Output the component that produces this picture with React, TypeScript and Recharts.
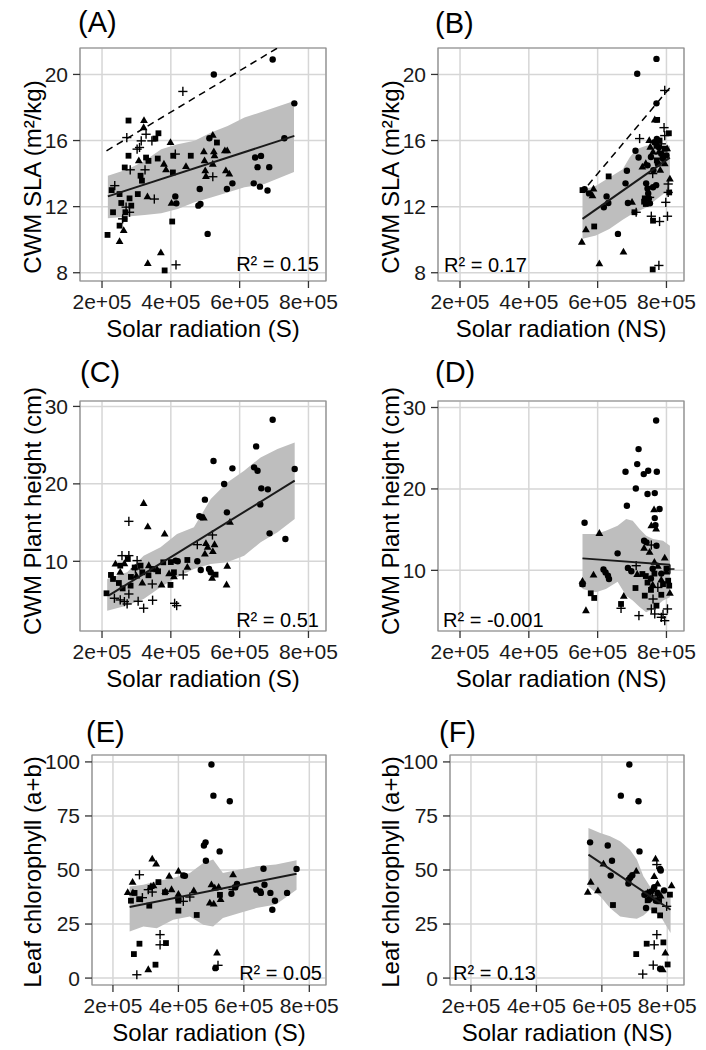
import React from 'react';
import { ComposedChart, Scatter, Area, XAxis, YAxis, CartesianGrid, ReferenceArea } from 'recharts';

type Pt = [number, number];

const X_TICKS = [2e5, 4e5, 6e5, 8e5];
const X_DOMAIN: [number, number] = [1.36e5, 8.51e5];

// (A) CWM SLA vs solar radiation (S)
const slaS_circle: Pt[] = [
  [6.96e5, 20.9], [5.25e5, 20.0], [7.59e5, 18.25], [7.3e5, 16.14], [5.12e5, 16.14], [6.45e5, 14.97],
  [6.62e5, 15.07], [6.52e5, 14.39], [6.86e5, 14.39], [6.41e5, 13.41], [6.59e5, 13.21], [6.81e5, 12.98],
  [5.79e5, 13.41], [5.63e5, 13.07], [4.84e5, 13.07], [4.8e5, 12.06], [4.86e5, 12.16], [5.07e5, 10.35],
  [4.13e5, 12.62], [4.16e5, 12.2],
];
const slaS_triangle: Pt[] = [
  [3.22e5, 17.21], [3.21e5, 16.78], [3.99e5, 15.88], [3.07e5, 14.77], [3.8e5, 14.57], [3.86e5, 14.23],
  [4.44e5, 14.43], [4.96e5, 15.32], [5.22e5, 16.32], [5.25e5, 15.32], [5.27e5, 15.08], [4.98e5, 14.77],
  [5.22e5, 14.57], [5.0e5, 14.17], [5.02e5, 13.83], [5.57e5, 15.38], [5.64e5, 15.38], [5.6e5, 14.17],
  [5.7e5, 13.97], [3.32e5, 12.6], [4.02e5, 12.2], [2.63e5, 10.55], [2.51e5, 9.89], [3.33e5, 8.56], [3.71e5, 9.21],
];
const slaS_square: Pt[] = [
  [2.77e5, 17.21], [3.64e5, 16.44], [3.55e5, 16.12], [2.77e5, 15.08], [3.28e5, 14.97], [3.35e5, 14.77],
  [3.62e5, 14.91], [4.07e5, 15.08], [4.58e5, 15.08], [5.34e5, 15.88], [2.66e5, 14.37], [3.12e5, 13.87],
  [3.16e5, 13.57], [4.06e5, 14.07], [2.28e5, 13.0], [2.51e5, 12.76], [2.8e5, 12.5], [3.04e5, 12.76],
  [2.56e5, 12.22], [2.85e5, 12.06], [2.32e5, 11.66], [2.68e5, 11.66], [2.51e5, 10.85], [2.16e5, 10.29],
  [4.04e5, 11.1], [3.82e5, 8.14], [2.66e5, 11.25],
];
const slaS_plus: Pt[] = [
  [4.35e5, 18.97], [2.72e5, 16.18], [3.14e5, 15.98], [3.28e5, 16.38], [3.09e5, 15.58], [3.02e5, 15.48],
  [3.45e5, 15.98], [4.13e5, 15.18], [2.82e5, 14.23], [3.25e5, 14.23], [5.22e5, 13.81], [2.37e5, 13.27],
  [3.52e5, 12.46], [2.7e5, 11.97], [2.8e5, 11.66], [2.6e5, 11.26], [4.15e5, 8.48],
];
const slaS_bandX = [2.17e5, 2.75e5, 3.24e5, 3.72e5, 4.2e5, 4.69e5, 5.17e5, 5.65e5, 6.14e5, 6.72e5, 7.58e5];
const slaS_bandLo = [11.3, 11.4, 11.5, 11.6, 11.86, 12.26, 12.56, 12.86, 13.17, 13.37, 14.1];
const slaS_bandHi = [13.87, 14.27, 14.77, 15.48, 15.78, 15.98, 16.48, 16.88, 17.39, 17.79, 18.39];
const slaS_fit: Pt[] = [[2.17e5, 12.62], [7.59e5, 16.28]];
const slaS_dash: Pt[] = [[2.13e5, 15.38], [7.1e5, 21.6]];

// (B) CWM SLA vs solar radiation (NS)
const slaNS_circle: Pt[] = [
  [7.71e5, 20.94], [7.15e5, 20.04], [7.71e5, 18.25], [7.1e5, 15.38], [7.19e5, 14.97], [6.85e5, 14.17],
  [6.81e5, 13.41], [6.26e5, 12.62], [6.31e5, 12.22], [6.18e5, 11.96], [6.88e5, 12.22], [6.59e5, 10.35],
  [5.62e5, 13.05], [5.75e5, 12.8], [7.41e5, 13.41], [7.45e5, 13.1], [7.47e5, 12.8], [7.49e5, 12.5],
  [7.52e5, 12.2], [7.61e5, 13.17], [7.7e5, 13.3], [7.65e5, 15.9], [7.72e5, 16.1], [7.78e5, 15.6],
  [7.55e5, 15.0], [7.85e5, 15.2], [7.9e5, 14.9], [7.45e5, 14.5], [7.75e5, 14.6], [8.0e5, 15.1], [7.62e5, 14.2],
];
const slaNS_triangle: Pt[] = [
  [7.66e5, 17.25], [5.88e5, 13.07], [5.85e5, 12.66], [5.66e5, 10.6], [5.54e5, 9.85], [6.05e5, 8.54],
  [6.75e5, 9.25], [7.0e5, 12.26], [8.1e5, 13.67], [7.53e5, 15.6], [7.61e5, 15.3], [7.78e5, 15.3],
  [7.88e5, 15.0], [7.95e5, 14.6], [7.4e5, 14.6], [7.82e5, 14.2], [8.02e5, 15.5], [7.5e5, 16.0], [7.3e5, 14.4],
];
const slaNS_square: Pt[] = [
  [7.73e5, 17.25], [6.32e5, 13.83], [5.9e5, 10.8], [5.56e5, 13.0], [8.07e5, 16.44], [7.37e5, 12.5],
  [7.4e5, 12.16], [7.07e5, 11.66], [7.61e5, 11.15], [7.6e5, 8.2], [8.08e5, 12.86], [7.71e5, 15.68],
  [7.8e5, 16.0], [7.95e5, 15.5], [7.35e5, 12.3], [7.72e5, 14.8],
];
const slaNS_plus: Pt[] = [
  [7.95e5, 19.03], [7.22e5, 16.12], [7.93e5, 16.78], [7.95e5, 16.3], [7.51e5, 12.56], [7.12e5, 11.66],
  [7.56e5, 11.42], [7.8e5, 11.1], [8.03e5, 11.42], [7.98e5, 12.26], [8.05e5, 12.86], [8.05e5, 13.37],
  [7.78e5, 8.44], [7.6e5, 14.0], [7.85e5, 15.8],
];
const slaNS_bandX = [5.56e5, 5.95e5, 6.34e5, 6.73e5, 6.93e5, 7.12e5, 7.41e5, 7.71e5, 8.1e5];
const slaNS_bandLo = [10.05, 10.25, 10.65, 11.2, 11.47, 11.66, 11.95, 12.45, 13.07];
const slaNS_bandHi = [13.0, 13.27, 13.77, 14.27, 14.97, 15.48, 15.68, 15.78, 15.68];
const slaNS_fit: Pt[] = [[5.56e5, 11.26], [8.1e5, 14.97]];
const slaNS_dash: Pt[] = [[5.72e5, 13.3], [8.1e5, 19.2]];

// (C) CWM plant height vs solar radiation (S)
const hS_circle: Pt[] = [
  [6.96e5, 28.28], [6.48e5, 24.84], [5.24e5, 22.95], [5.79e5, 22.0], [6.42e5, 22.13], [6.52e5, 21.7],
  [7.6e5, 21.91], [5.55e5, 19.98], [6.63e5, 19.42], [6.82e5, 19.29], [6.6e5, 17.35], [5.63e5, 16.32],
  [4.99e5, 17.96], [4.83e5, 15.81], [6.87e5, 13.61], [7.33e5, 12.88], [4.77e5, 10.0], [4.87e5, 8.88],
  [5.11e5, 9.01], [5.16e5, 8.58], [4.14e5, 10.09], [4.2e5, 10.0], [4.9e5, 15.7],
];
const hS_triangle: Pt[] = [
  [3.21e5, 17.48], [3.33e5, 14.47], [3.82e5, 13.53], [4.96e5, 15.59], [5.72e5, 15.03], [5.02e5, 12.3],
  [5.07e5, 11.8], [5.27e5, 12.15], [5.22e5, 11.25], [4.99e5, 10.95], [5.64e5, 9.35], [5.62e5, 6.95],
  [5.2e5, 7.81], [4.48e5, 9.23], [4.09e5, 8.02], [3.73e5, 6.95], [3.17e5, 7.2], [2.39e5, 9.66],
  [2.53e5, 8.58], [3.36e5, 9.44], [3.6e5, 8.92], [2.65e5, 9.7], [3.0e5, 8.1], [3.95e5, 8.4],
];
const hS_square: Pt[] = [
  [2.75e5, 10.3], [2.26e5, 8.24], [2.32e5, 7.72], [2.53e5, 9.44], [2.49e5, 7.2], [2.83e5, 6.86],
  [3.12e5, 9.44], [3.17e5, 8.58], [3.63e5, 8.71], [3.78e5, 9.87], [3.99e5, 6.95], [4.48e5, 10.17],
  [5.3e5, 8.28], [2.13e5, 5.87], [2.84e5, 7.98], [3.46e5, 9.01], [4.09e5, 8.58], [2.95e5, 9.2],
  [3.35e5, 8.2], [4.0e5, 9.9], [2.6e5, 6.5],
];
const hS_plus: Pt[] = [
  [2.78e5, 15.16], [2.58e5, 10.73], [2.78e5, 10.73], [3.02e5, 10.09], [2.97e5, 9.01], [4.36e5, 8.24],
  [4.77e5, 12.15], [5.21e5, 13.4], [3.46e5, 7.07], [2.36e5, 5.23], [2.53e5, 5.01], [2.73e5, 4.49],
  [3.05e5, 4.84], [3.21e5, 3.94], [3.47e5, 4.97], [4.11e5, 4.58], [4.17e5, 4.28], [2.78e5, 5.78], [2.65e5, 4.8],
];
const hS_bandX = [2.15e5, 2.73e5, 3.21e5, 3.7e5, 4.18e5, 4.67e5, 5.16e5, 5.64e5, 6.13e5, 6.61e5, 7.1e5, 7.6e5];
const hS_bandLo = [3.63, 4.28, 5.14, 6.65, 7.94, 9.01, 9.66, 9.87, 10.73, 12.45, 13.74, 15.46];
const hS_bandHi = [7.72, 8.58, 10.73, 11.81, 13.53, 14.39, 18.04, 20.19, 21.7, 23.42, 24.49, 25.35];
const hS_fit: Pt[] = [[2.2e5, 5.6], [7.6e5, 20.41]];

// (D) CWM plant height vs solar radiation (NS)
const hNS_circle: Pt[] = [
  [7.7e5, 28.4], [7.19e5, 24.89], [7.15e5, 23.05], [6.81e5, 22.11], [7.34e5, 21.82], [7.47e5, 22.23],
  [7.72e5, 22.11], [7.11e5, 20.06], [7.45e5, 19.37], [7.66e5, 19.49], [6.85e5, 17.93], [7.8e5, 17.53],
  [7.66e5, 16.42], [7.68e5, 15.56], [5.62e5, 15.85], [6.58e5, 12.09], [7.35e5, 13.64], [7.42e5, 13.44],
  [7.71e5, 13.03], [6.17e5, 10.1], [6.23e5, 9.75], [6.3e5, 9.35], [6.33e5, 8.94], [6.88e5, 10.3],
  [6.98e5, 9.88], [5.56e5, 8.28], [7.6e5, 10.2], [7.85e5, 9.6], [7.55e5, 9.0],
];
const hNS_triangle: Pt[] = [
  [6.05e5, 14.54], [7.64e5, 17.44], [7.56e5, 15.48], [7.7e5, 15.07], [7.35e5, 12.7], [7.51e5, 12.21],
  [7.95e5, 11.51], [5.88e5, 9.43], [5.56e5, 8.65], [5.66e5, 5.05], [6.76e5, 6.81], [8.1e5, 7.18],
  [7.65e5, 11.0], [7.75e5, 10.5], [7.85e5, 8.8], [7.6e5, 8.2], [8.0e5, 9.8], [7.15e5, 9.5],
];
const hNS_square: Pt[] = [
  [5.56e5, 8.32], [5.8e5, 7.18], [5.9e5, 6.61], [6.68e5, 5.87], [7.1e5, 7.83], [7.37e5, 6.89],
  [7.3e5, 9.55], [8.05e5, 8.73], [8.08e5, 8.12], [7.71e5, 5.66], [7.45e5, 8.5], [7.65e5, 9.6],
  [7.9e5, 8.3], [7.55e5, 7.6], [7.85e5, 7.0], [8.0e5, 10.2], [7.4e5, 9.3],
];
const hNS_plus: Pt[] = [
  [7.12e5, 10.57], [7.56e5, 13.11], [6.68e5, 5.34], [7.2e5, 4.44], [7.56e5, 5.26], [7.66e5, 4.64],
  [7.85e5, 4.23], [7.95e5, 3.82], [8.03e5, 5.26], [7.61e5, 6.48], [8.1e5, 10.16], [7.75e5, 7.9], [7.9e5, 4.6],
];
const hNS_bandX = [5.56e5, 5.95e5, 6.24e5, 6.58e5, 6.83e5, 7.02e5, 7.22e5, 7.41e5, 7.61e5, 7.9e5, 8.1e5];
const hNS_bandLo = [7.71, 7.3, 7.71, 8.6, 6.89, 6.3, 5.5, 4.85, 5.26, 6.3, 6.69];
const hNS_bandHi = [14.46, 14.46, 14.87, 15.48, 16.3, 16.09, 15.07, 14.25, 13.84, 13.64, 13.03];
const hNS_fit: Pt[] = [[5.56e5, 11.47], [8.1e5, 10.7]];

// (E) leaf chlorophyll vs solar radiation (S)
const chlS_circle: Pt[] = [
  [5.01e5, 98.8], [5.07e5, 84.4], [5.57e5, 81.8], [4.83e5, 62.8], [4.78e5, 61.3], [5.26e5, 58.6],
  [4.84e5, 54.3], [6.6e5, 50.6], [7.61e5, 50.5], [4.15e5, 47.5], [4.2e5, 47.3], [5.79e5, 43.5],
  [6.63e5, 43.2], [5.74e5, 42.0], [6.38e5, 40.9], [6.5e5, 40.1], [6.52e5, 39.4], [6.81e5, 39.4],
  [7.32e5, 39.4], [6.95e5, 35.8], [6.87e5, 31.6], [5.62e5, 39.0], [5.13e5, 4.6], [4.0e5, 36.5],
];
const chlS_triangle: Pt[] = [
  [3.2e5, 55.1], [3.32e5, 52.8], [2.6e5, 44.3], [2.45e5, 39.6], [2.61e5, 39.4], [3.72e5, 47.1],
  [4.0e5, 49.4], [3.16e5, 42.4], [3.24e5, 42.7], [3.79e5, 40.9], [4.47e5, 40.4], [5.01e5, 43.2],
  [5.11e5, 41.7], [5.67e5, 47.8], [4.96e5, 34.7], [5.08e5, 34.3], [5.29e5, 36.3], [5.18e5, 11.6],
  [3.08e5, 3.9], [3.6e5, 40.0], [4.0e5, 38.8], [5.23e5, 42.0],
];
const chlS_square: Pt[] = [
  [3.39e5, 44.4], [2.66e5, 39.4], [2.55e5, 35.8], [3.11e5, 33.5], [3.59e5, 39.7], [4.0e5, 35.8],
  [4.0e5, 31.2], [4.56e5, 29.2], [2.81e5, 15.9], [3.62e5, 16.2], [2.64e5, 11.1], [3.3e5, 6.2],
  [5.27e5, 38.5], [2.8e5, 36.5],
];
const chlS_plus: Pt[] = [
  [2.81e5, 47.8], [3.08e5, 40.9], [3.2e5, 39.8], [4.35e5, 37.5], [4.15e5, 35.5], [3.44e5, 20.1],
  [3.44e5, 15.4], [2.73e5, 1.54], [5.21e5, 5.9], [5.67e5, 41.0], [2.9e5, 37.2],
];
const chlS_bandX = [2.51e5, 2.93e5, 3.34e5, 3.84e5, 4.35e5, 4.76e5, 5.06e5, 5.36e5, 5.87e5, 6.38e5, 6.98e5, 7.61e5];
const chlS_bandLo = [21.6, 23.9, 23.1, 27.0, 28.5, 24.7, 23.9, 27.8, 30.1, 32.4, 34.0, 40.9];
const chlS_bandHi = [42.4, 43.2, 44.8, 46.3, 48.6, 53.2, 54.8, 48.6, 50.2, 51.7, 52.5, 54.5];
const chlS_fit: Pt[] = [[2.51e5, 32.9], [7.61e5, 48.3]];

// (F) leaf chlorophyll vs solar radiation (NS)
const chlNS_circle: Pt[] = [
  [6.84e5, 98.8], [6.58e5, 84.4], [7.12e5, 81.8], [5.64e5, 62.8], [6.18e5, 61.3], [7.15e5, 58.6],
  [6.31e5, 54.3], [6.27e5, 47.4], [6.82e5, 45.5], [6.87e5, 46.5], [6.93e5, 47.6], [6.81e5, 43.7],
  [7.78e5, 50.5], [7.8e5, 49.8], [7.35e5, 32.4], [7.78e5, 4.3], [7.3e5, 38.5], [7.5e5, 40.0],
  [7.6e5, 42.0], [7.7e5, 39.4], [7.9e5, 40.5], [7.45e5, 36.5], [7.65e5, 35.8], [7.35e5, 39.0],
];
const chlNS_triangle: Pt[] = [
  [5.66e5, 44.3], [5.57e5, 39.7], [5.88e5, 40.4], [6.05e5, 52.8], [7.05e5, 49.4], [7.64e5, 55.1],
  [8.13e5, 42.7], [7.94e5, 11.6], [7.86e5, 3.9], [7.55e5, 41.0], [7.7e5, 43.5], [7.4e5, 39.5],
  [7.8e5, 38.0], [7.6e5, 47.0],
];
const chlNS_square: Pt[] = [
  [6.34e5, 33.8], [7.6e5, 31.3], [7.78e5, 29.0], [8.08e5, 38.6], [7.37e5, 15.9], [7.88e5, 16.5],
  [7.05e5, 11.1], [8.01e5, 6.3], [7.4e5, 36.0], [7.75e5, 35.5],
];
const chlNS_plus: Pt[] = [
  [7.68e5, 52.5], [7.68e5, 20.1], [7.6e5, 15.4], [7.25e5, 1.85], [7.57e5, 6.0], [7.98e5, 33.2],
  [7.7e5, 37.0], [7.55e5, 38.0],
];
const chlNS_bandX = [5.59e5, 5.95e5, 6.25e5, 6.56e5, 6.86e5, 7.07e5, 7.27e5, 7.47e5, 7.78e5, 8.1e5];
const chlNS_bandLo = [42.4, 37.8, 32.4, 28.5, 27.8, 27.5, 29.0, 31.6, 29.0, 20.8];
const chlNS_bandHi = [69.4, 67.1, 65.6, 63.3, 59.4, 54.8, 47.1, 42.4, 40.9, 39.4];
const chlNS_fit: Pt[] = [[5.59e5, 57.1], [8.1e5, 31.6]];

const SLA_TICKS = [8, 12, 16, 20];
const HEIGHT_TICKS = [10, 20, 30];
const CHL_TICKS = [0, 25, 50, 75, 100];

const toPts = (arr: Pt[]) => arr.map(([x, y]) => ({ x, y }));
const bandRows = (xs: number[], lo: number[], hi: number[]) => xs.map((x, i) => ({ x, band: [lo[i], hi[i]] }));
const fmtX = (v: number) => `${Math.round(v / 1e5)}e+05`;

type Kind = 'circle' | 'triangle' | 'square' | 'plus';

const Marker = ({ cx, cy, kind }: { cx?: number; cy?: number; kind: Kind }) => {
  if (cx == null || cy == null) return null;
  if (kind === 'circle') return <circle cx={cx} cy={cy} r={3.2} fill="#000" />;
  if (kind === 'triangle')
    return <polygon points={`${cx},${cy - 4.3} ${cx - 3.9},${cy + 2.5} ${cx + 3.9},${cy + 2.5}`} fill="#000" />;
  if (kind === 'square') return <rect x={cx - 2.9} y={cy - 2.9} width={5.8} height={5.8} fill="#000" />;
  return (
    <g stroke="#000" strokeWidth={1.4}>
      <line x1={cx - 4.6} y1={cy} x2={cx + 4.6} y2={cy} />
      <line x1={cx} y1={cy - 4.6} x2={cx} y2={cy + 4.6} />
    </g>
  );
};

const PANELS = [
  {
    tag: '(A)', tagX: 78, tagY: 32,
    plot: { left: 80, top: 48, width: 246, height: 233 },
    yDomain: [7.5, 21.6], yTicks: SLA_TICKS,
    groups: { circle: slaS_circle, triangle: slaS_triangle, square: slaS_square, plus: slaS_plus },
    band: bandRows(slaS_bandX, slaS_bandLo, slaS_bandHi), fit: slaS_fit, dash: slaS_dash,
    r2: 'R² = 0.15', r2X: 319, r2Y: 271, r2Anchor: 'end',
    yTitle: 'CWM SLA (m²/kg)', yTitleX: 41, yTitleY: 177, xTitle: 'Solar radiation (S)',
  },
  {
    tag: '(B)', tagX: 435, tagY: 33,
    plot: { left: 438, top: 48, width: 246, height: 233 },
    yDomain: [7.5, 21.6], yTicks: SLA_TICKS,
    groups: { circle: slaNS_circle, triangle: slaNS_triangle, square: slaNS_square, plus: slaNS_plus },
    band: bandRows(slaNS_bandX, slaNS_bandLo, slaNS_bandHi), fit: slaNS_fit, dash: slaNS_dash,
    r2: 'R² = 0.17', r2X: 444, r2Y: 272, r2Anchor: 'start',
    yTitle: 'CWM SLA (m²/kg)', yTitleX: 399, yTitleY: 177, xTitle: 'Solar radiation (NS)',
  },
  {
    tag: '(C)', tagX: 80, tagY: 382,
    plot: { left: 80, top: 401, width: 246, height: 230 },
    yDomain: [1.0, 30.7], yTicks: HEIGHT_TICKS,
    groups: { circle: hS_circle, triangle: hS_triangle, square: hS_square, plus: hS_plus },
    band: bandRows(hS_bandX, hS_bandLo, hS_bandHi), fit: hS_fit, dash: null,
    r2: 'R² = 0.51', r2X: 319, r2Y: 627, r2Anchor: 'end',
    yTitle: 'CWM Plant height (cm)', yTitleX: 41, yTitleY: 511, xTitle: 'Solar radiation (S)',
  },
  {
    tag: '(D)', tagX: 435, tagY: 382,
    plot: { left: 438, top: 401, width: 246, height: 230 },
    yDomain: [2.55, 30.8], yTicks: HEIGHT_TICKS,
    groups: { circle: hNS_circle, triangle: hNS_triangle, square: hNS_square, plus: hNS_plus },
    band: bandRows(hNS_bandX, hNS_bandLo, hNS_bandHi), fit: hNS_fit, dash: null,
    r2: 'R² = -0.001', r2X: 443, r2Y: 627, r2Anchor: 'start',
    yTitle: 'CWM Plant height (cm)', yTitleX: 399, yTitleY: 511, xTitle: 'Solar radiation (NS)',
  },
  {
    tag: '(E)', tagX: 86, tagY: 742,
    plot: { left: 92, top: 755, width: 234, height: 230 },
    yDomain: [-3.2, 103.2], yTicks: CHL_TICKS,
    groups: { circle: chlS_circle, triangle: chlS_triangle, square: chlS_square, plus: chlS_plus },
    band: bandRows(chlS_bandX, chlS_bandLo, chlS_bandHi), fit: chlS_fit, dash: null,
    r2: 'R² = 0.05', r2X: 322, r2Y: 980, r2Anchor: 'end',
    yTitle: 'Leaf chlorophyll (a+b)', yTitleX: 41, yTitleY: 872, xTitle: 'Solar radiation (S)',
  },
  {
    tag: '(F)', tagX: 439, tagY: 742,
    plot: { left: 450, top: 755, width: 234, height: 230 },
    yDomain: [-3.2, 103.2], yTicks: CHL_TICKS,
    groups: { circle: chlNS_circle, triangle: chlNS_triangle, square: chlNS_square, plus: chlNS_plus },
    band: bandRows(chlNS_bandX, chlNS_bandLo, chlNS_bandHi), fit: chlNS_fit, dash: null,
    r2: 'R² = 0.13', r2X: 453, r2Y: 980, r2Anchor: 'start',
    yTitle: 'Leaf chlorophyll (a+b)', yTitleX: 399, yTitleY: 872, xTitle: 'Solar radiation (NS)',
  },
];

const YW = 60;
const MT = 10;
const MR = 20;
const XH = 40;
const FONT = '"Liberation Sans", Arial, Helvetica, sans-serif';
const tickStyle = { fontSize: 21, fill: '#1a1a1a', fontFamily: FONT };
const tickLineStyle = { stroke: '#333', strokeWidth: 1.3 };

const Panel = ({ p }: { p: (typeof PANELS)[number] }) => {
  const kinds: Kind[] = ['circle', 'triangle', 'square', 'plus'];
  return (
    <div style={{ position: 'absolute', left: p.plot.left - YW, top: p.plot.top - MT }}>
      <ComposedChart
        width={p.plot.width + YW + MR}
        height={p.plot.height + MT + XH}
        data={p.band}
        margin={{ top: MT, right: MR, bottom: 0, left: 0 }}
      >
        <CartesianGrid stroke="#d6d6d6" strokeWidth={1.5} />
        <XAxis
          dataKey="x" type="number" domain={X_DOMAIN} ticks={X_TICKS} allowDataOverflow interval={0}
          tickFormatter={fmtX} axisLine={false} tickSize={7} tickMargin={6} height={XH}
          tick={tickStyle} tickLine={tickLineStyle}
        />
        <YAxis
          type="number" domain={p.yDomain} ticks={p.yTicks} allowDataOverflow interval={0}
          axisLine={false} width={YW} tickSize={7} tickMargin={5} tick={tickStyle} tickLine={tickLineStyle}
        />
        <Area dataKey="band" type="linear" stroke="none" fill="#bebebe" fillOpacity={1} isAnimationActive={false} />
        <ReferenceArea
          x1={X_DOMAIN[0]} x2={X_DOMAIN[1]} y1={p.yDomain[0]} y2={p.yDomain[1]}
          fill="none" stroke="#8c8c8c" strokeWidth={1.2} strokeOpacity={1}
        />
        {kinds.map((k) => (
          <Scatter
            key={k}
            data={toPts(p.groups[k])}
            dataKey="y"
            isAnimationActive={false}
            shape={(s: any) => <Marker cx={s.cx} cy={s.cy} kind={k} />}
          />
        ))}
        <Scatter
          data={toPts(p.fit)}
          dataKey="y"
          line={{ stroke: '#1a1a1a', strokeWidth: 2 }}
          lineType="joint"
          shape={() => <g />}
          isAnimationActive={false}
        />
        {p.dash && (
          <Scatter
            data={toPts(p.dash)}
            dataKey="y"
            line={{ stroke: '#000', strokeWidth: 1.5, strokeDasharray: '7 5' }}
            lineType="joint"
            shape={() => <g />}
            isAnimationActive={false}
          />
        )}
      </ComposedChart>
    </div>
  );
};

export default function App() {
  return (
    <div style={{ position: 'absolute', left: 0, top: 0, width: 706, height: 1050, background: '#fff', fontFamily: FONT, overflow: 'hidden' }}>
      {PANELS.map((p) => (
        <Panel key={p.tag} p={p} />
      ))}
      <svg
        width={706}
        height={1050}
        style={{ position: 'absolute', left: 0, top: 0, pointerEvents: 'none' }}
        fontFamily={FONT}
      >
        {PANELS.map((p) => {
          const cx = p.plot.left + p.plot.width / 2;
          const bottom = p.plot.top + p.plot.height;
          return (
            <g key={p.tag}>
              <text x={p.tagX} y={p.tagY} fontSize={29} fill="#000">{p.tag}</text>
              <text x={cx} y={bottom + 56} fontSize={24} textAnchor="middle" fill="#000">{p.xTitle}</text>
              <text
                x={p.yTitleX} y={p.yTitleY} fontSize={24} textAnchor="middle" fill="#000"
                transform={`rotate(-90 ${p.yTitleX} ${p.yTitleY})`}
              >
                {p.yTitle}
              </text>
              <text x={p.r2X} y={p.r2Y} fontSize={20} textAnchor={p.r2Anchor as any} fill="#000">{p.r2}</text>
            </g>
          );
        })}
      </svg>
    </div>
  );
}
